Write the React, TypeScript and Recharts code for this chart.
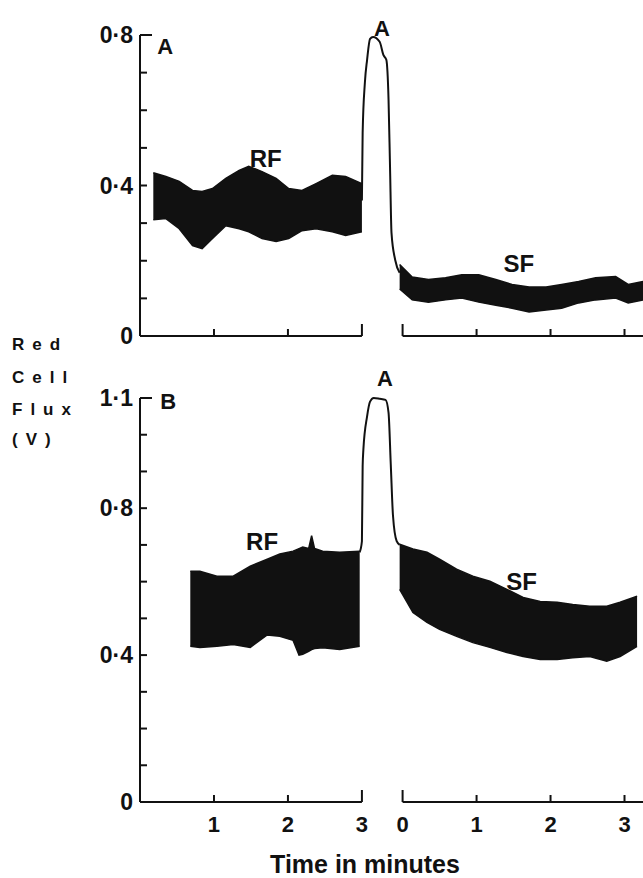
import React from "react";
import { ComposedChart, Area, Line, XAxis, YAxis, ReferenceLine, ReferenceDot } from "recharts";

const FONT = '"Liberation Sans", Arial, Helvetica, sans-serif';
const INK = "#111";

// time axis: resting trace 0-3 min, a break for the arterial occlusion, then a second 0-3 min scale
const SF_ZERO = 3.55;
const X_MAX = 6.8;
const xTicks = [1, 2, 3, SF_ZERO, SF_ZERO + 1, SF_ZERO + 2, SF_ZERO + 3];
const xTickLabels = ["1", "2", "3", "0", "1", "2", "3"];
const bracketTicks = [3, SF_ZERO];

// panel A (0 - 0.8 V)
const aYTicks = [0, 0.1, 0.2, 0.3, 0.4, 0.5, 0.6, 0.7, 0.8];
const aYLabels = [0, 0.4, 0.8];

const aRfTime = [0.18, 0.35, 0.53, 0.71, 0.84, 0.98, 1.16, 1.34, 1.47, 1.65, 1.84, 2.01, 2.19, 2.38, 2.6, 2.78, 3.0];
const aRfHigh = [0.434, 0.424, 0.411, 0.387, 0.384, 0.392, 0.419, 0.44, 0.451, 0.437, 0.419, 0.392, 0.387, 0.405, 0.427, 0.424, 0.405];
const aRfLow = [0.309, 0.312, 0.285, 0.24, 0.232, 0.259, 0.293, 0.285, 0.277, 0.259, 0.251, 0.259, 0.28, 0.285, 0.277, 0.267, 0.277];

const aPeakTime = [3.0, 3.01, 3.04, 3.07, 3.11, 3.15, 3.24, 3.29, 3.33, 3.36, 3.38, 3.4, 3.45, 3.51];
const aPeakValue = [0.36, 0.54, 0.673, 0.734, 0.79, 0.795, 0.782, 0.747, 0.734, 0.628, 0.45, 0.274, 0.202, 0.168];

const aSfTime = [3.51, 3.68, 3.9, 4.13, 4.35, 4.58, 4.81, 5.03, 5.26, 5.49, 5.7, 5.93, 6.16, 6.43, 6.6, 6.8];
const aSfHigh = [0.19, 0.157, 0.15, 0.155, 0.163, 0.163, 0.15, 0.137, 0.13, 0.13, 0.137, 0.145, 0.155, 0.158, 0.137, 0.145];
const aSfLow = [0.125, 0.096, 0.09, 0.096, 0.101, 0.09, 0.082, 0.074, 0.064, 0.069, 0.074, 0.088, 0.096, 0.101, 0.088, 0.096];

// panel B (0 - 1.1 V)
const bYTicks = [0, 0.1, 0.2, 0.3, 0.4, 0.5, 0.6, 0.7, 0.8, 0.9, 1.0, 1.1];
const bYLabels = [0, 0.4, 0.8, 1.1];

const bRfTime = [0.68, 0.81, 1.04, 1.26, 1.49, 1.72, 1.89, 2.07, 2.15, 2.2, 2.28, 2.32, 2.36, 2.47, 2.7, 2.97];
const bRfHigh = [0.628, 0.628, 0.615, 0.615, 0.642, 0.661, 0.675, 0.683, 0.69, 0.694, 0.69, 0.725, 0.69, 0.683, 0.68, 0.683];
const bRfLow = [0.424, 0.421, 0.424, 0.429, 0.421, 0.455, 0.451, 0.44, 0.4, 0.402, 0.41, 0.415, 0.418, 0.42, 0.415, 0.424];

const bPeakTime = [2.97, 3.0, 3.01, 3.02, 3.07, 3.11, 3.16, 3.24, 3.32, 3.36, 3.39, 3.42, 3.47, 3.51];
const bPeakValue = [0.68, 0.71, 0.915, 0.96, 1.05, 1.09, 1.1, 1.098, 1.095, 1.06, 0.92, 0.78, 0.71, 0.7];

const bSfTime = [3.51, 3.69, 3.88, 4.05, 4.28, 4.5, 4.73, 4.96, 5.18, 5.41, 5.64, 5.85, 6.08, 6.31, 6.49, 6.72];
const bSfHigh = [0.702, 0.689, 0.68, 0.661, 0.634, 0.615, 0.601, 0.579, 0.557, 0.546, 0.544, 0.538, 0.533, 0.533, 0.544, 0.56];
const bSfLow = [0.579, 0.516, 0.489, 0.47, 0.451, 0.434, 0.421, 0.407, 0.396, 0.388, 0.388, 0.393, 0.396, 0.383, 0.396, 0.424];

type Row = { t: number; rf?: [number, number]; peak?: number; sf?: [number, number] };

function buildRows(
  rfT: number[], rfLo: number[], rfHi: number[],
  pkT: number[], pkV: number[],
  sfT: number[], sfLo: number[], sfHi: number[]
): Row[] {
  const m = new Map<number, Row>();
  const get = (t: number) => {
    if (!m.has(t)) m.set(t, { t });
    return m.get(t)!;
  };
  rfT.forEach((t, i) => (get(t).rf = [rfLo[i], rfHi[i]]));
  pkT.forEach((t, i) => (get(t).peak = pkV[i]));
  sfT.forEach((t, i) => (get(t).sf = [sfLo[i], sfHi[i]]));
  return [...m.values()].sort((a, b) => a.t - b.t);
}

const near = (a: number, b: number) => Math.abs(a - b) < 1e-6;
const fmtY = (v: number) => (v === 0 ? "0" : v.toFixed(1).replace(".", "\u00b7"));

function XTick(props: any) {
  const { x, y, payload, showLabel } = props;
  const i = xTicks.findIndex((t) => near(t, payload.value));
  const len = bracketTicks.some((t) => near(t, payload.value)) ? 12 : 7;
  return (
    <g>
      <line x1={x} x2={x} y1={y} y2={y - len} stroke={INK} strokeWidth={2} />
      {showLabel && (
        <text x={x} y={y + 22} textAnchor="middle" dominantBaseline="central"
          fontFamily={FONT} fontWeight={700} fontSize={22} fill={INK}>
          {xTickLabels[i]}
        </text>
      )}
    </g>
  );
}

function YTick(props: any) {
  const { x, y, payload, top, labels } = props;
  const v = payload.value;
  const label = labels.find((l: number) => near(l, v));
  return (
    <g>
      {v > 0 && <line x1={x} x2={x + (near(v, top) ? 12 : 7)} y1={y} y2={y} stroke={INK} strokeWidth={2} />}
      {label !== undefined && (
        <text x={x - 7} y={y} textAnchor="end" dominantBaseline="central"
          fontFamily={FONT} fontWeight={700} fontSize={23} fill={INK}>
          {fmtY(label)}
        </text>
      )}
    </g>
  );
}

type Note = { text: string; t: number; v: number; size: number };

const aNotes: Note[] = [
  { text: "A", t: 0.34, v: 0.77, size: 22 },
  { text: "A", t: 3.27, v: 0.817, size: 22 },
  { text: "RF", t: 1.7, v: 0.473, size: 24 },
  { text: "SF", t: 5.12, v: 0.194, size: 24 },
];
const bNotes: Note[] = [
  { text: "B", t: 0.38, v: 1.09, size: 22 },
  { text: "A", t: 3.31, v: 1.153, size: 22 },
  { text: "RF", t: 1.65, v: 0.708, size: 24 },
  { text: "SF", t: 5.16, v: 0.601, size: 24 },
];

type PanelProps = {
  rows: Row[];
  yMax: number;
  yTicks: number[];
  yLabels: number[];
  notes: Note[];
  height: number;
  top: number;
  xAxisHeight: number;
  showXLabels: boolean;
};

function Panel({ rows, yMax, yTicks, yLabels, notes, height, top, xAxisHeight, showXLabels }: PanelProps) {
  return (
    <ComposedChart width={643} height={height} data={rows} margin={{ top, right: 0, bottom: 0, left: 0 }}>
      <XAxis
        dataKey="t"
        type="number"
        domain={[0, X_MAX]}
        ticks={xTicks}
        interval={0}
        height={xAxisHeight}
        axisLine={false}
        tickLine={false}
        tickSize={0}
        tickMargin={0}
        tick={(p: any) => <XTick {...p} showLabel={showXLabels} />}
      />
      <YAxis
        type="number"
        domain={[0, yMax]}
        ticks={yTicks}
        interval={0}
        width={140}
        axisLine={{ stroke: INK, strokeWidth: 2 }}
        tickLine={false}
        tickSize={0}
        tickMargin={0}
        tick={(p: any) => <YTick {...p} top={yMax} labels={yLabels} />}
      />
      <ReferenceLine segment={[{ x: 0, y: 0 }, { x: 3, y: 0 }]} stroke={INK} strokeWidth={2} />
      <ReferenceLine segment={[{ x: SF_ZERO, y: 0 }, { x: X_MAX, y: 0 }]} stroke={INK} strokeWidth={2} />
      <Area dataKey="rf" type="linear" fill={INK} fillOpacity={1} stroke={INK} strokeWidth={1.5}
        dot={false} activeDot={false} isAnimationActive={false} />
      <Area dataKey="sf" type="linear" fill={INK} fillOpacity={1} stroke={INK} strokeWidth={1.5}
        dot={false} activeDot={false} isAnimationActive={false} />
      <Line dataKey="peak" type="monotone" stroke={INK} strokeWidth={2} connectNulls
        dot={false} activeDot={false} isAnimationActive={false} />
      {notes.map((n, i) => (
        <ReferenceDot key={i} x={n.t} y={n.v} r={0} fill="none" stroke="none" ifOverflow="visible"
          label={{ value: n.text, position: "center", fill: INK, fontSize: n.size, fontWeight: 700, fontFamily: FONT }} />
      ))}
    </ComposedChart>
  );
}

const yTitleLines = ["Red", "Cell", "Flux", "(V)"];
const yTitleTops = [335, 368, 400, 430];

export default function App() {
  const aRows = buildRows(aRfTime, aRfLow, aRfHigh, aPeakTime, aPeakValue, aSfTime, aSfLow, aSfHigh);
  const bRows = buildRows(bRfTime, bRfLow, bRfHigh, bPeakTime, bPeakValue, bSfTime, bSfLow, bSfHigh);
  return (
    <div style={{ position: "absolute", left: 0, top: 0, width: 643, height: 878, background: "#fff", overflow: "hidden", fontFamily: FONT }}>
      <div style={{ position: "absolute", left: 0, top: 0 }}>
        <Panel rows={aRows} yMax={0.8} yTicks={aYTicks} yLabels={aYLabels} notes={aNotes}
          height={350} top={35} xAxisHeight={14} showXLabels={false} />
      </div>
      <div style={{ position: "absolute", left: 0, top: 350 }}>
        <Panel rows={bRows} yMax={1.1} yTicks={bYTicks} yLabels={bYLabels} notes={bNotes}
          height={492} top={48} xAxisHeight={40} showXLabels={true} />
      </div>
      {yTitleLines.map((s, i) => (
        <div key={s} style={{ position: "absolute", left: 12, top: yTitleTops[i], fontSize: 17, fontWeight: 700,
          letterSpacing: 8, lineHeight: "20px", color: INK, whiteSpace: "nowrap" }}>
          {s}
        </div>
      ))}
      <div style={{ position: "absolute", left: 365, top: 864, transform: "translate(-50%, -50%)", fontSize: 25,
        fontWeight: 700, color: INK, whiteSpace: "nowrap" }}>
        Time in minutes
      </div>
    </div>
  );
}
